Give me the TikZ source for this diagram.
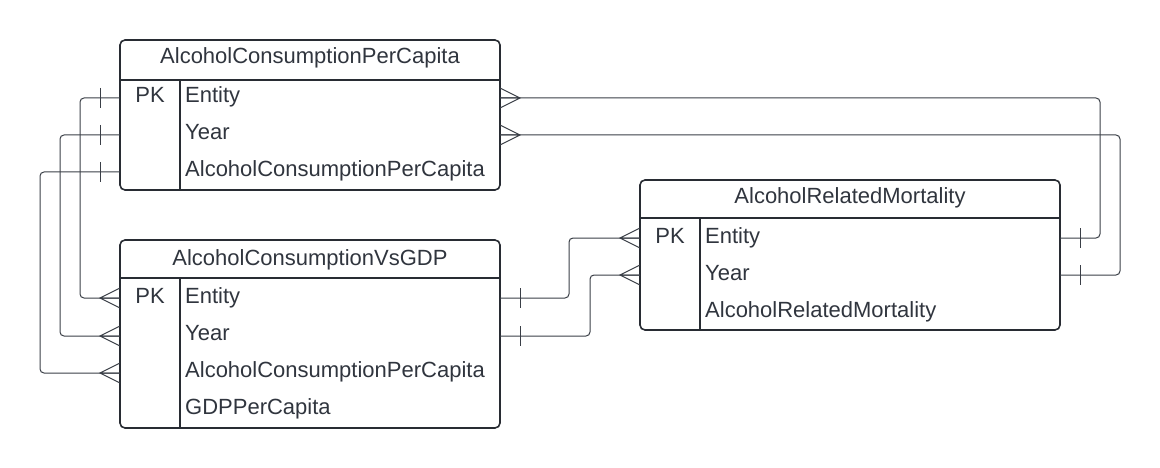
\documentclass[tikz,border=0pt]{standalone}
\usepackage{fontspec}
\setmainfont{Liberation Sans}
\usetikzlibrary{positioning}

\definecolor{edgegray}{HTML}{282C33}
\definecolor{linkgray}{HTML}{3A3F47}
\definecolor{txtgray}{HTML}{30353E}

\tikzset{
  tablebox/.style={draw=edgegray, line width=1.6pt, rounded corners=5pt},
  tablesep/.style={draw=edgegray, line width=1.6pt},
  titletext/.style={anchor=base, inner sep=0pt, text=txtgray, font=\fontsize{22}{26}\selectfont},
  fieldtext/.style={anchor=base west, inner sep=0pt, text=txtgray, font=\fontsize{22}{26}\selectfont},
  keytext/.style={anchor=base, inner sep=0pt, text=txtgray, font=\fontsize{22}{26}\selectfont},
  link/.style={draw=linkgray, line width=1pt, rounded corners=4pt},
  crowmany/.pic={\draw[link, sharp corners] (0,-10) -- (-20,0) -- (0,10) (0,0) -- (-20,0);},
  crowone/.pic={\draw[link, sharp corners] (-20,-10) -- (-20,10);},
}

\begin{document}
\begin{tikzpicture}[x=1pt,y=-1pt]
\useasboundingbox (0,0) rectangle (1160,468);

% AlcoholConsumptionPerCapita
\draw[tablebox] (120,40) rectangle (500,190);
\draw[tablesep] (120,80) -- (500,80) (180,80) -- (180,190);
\node[titletext] (capTitle) at (310,64) {AlcoholConsumptionPerCapita};
\node[keytext] (capPK) at (150,103) {PK};
\node[fieldtext] (capEntity) at (185,103) {Entity};
\node[fieldtext] (capYear) at (185,140) {Year};
\node[fieldtext] (capValue) at (185,177) {AlcoholConsumptionPerCapita};
\coordinate (capEntityL) at (120,98);
\coordinate (capYearL) at (120,135);
\coordinate (capValueL) at (120,172);
\coordinate (capEntityR) at (500,98);
\coordinate (capYearR) at (500,135);

% AlcoholConsumptionVsGDP
\draw[tablebox] (120,240) rectangle (500,428);
\draw[tablesep] (120,278) -- (500,278) (180,278) -- (180,428);
\node[titletext] (gdpTitle) at (310,265) {AlcoholConsumptionVsGDP};
\node[keytext] (gdpPK) at (150,303) {PK};
\node[fieldtext] (gdpEntity) at (185,303) {Entity};
\node[fieldtext] (gdpYear) at (185,340) {Year};
\node[fieldtext] (gdpValue) at (185,377) {AlcoholConsumptionPerCapita};
\node[fieldtext] (gdpGDP) at (185,414) {GDPPerCapita};
\coordinate (gdpEntityL) at (120,298);
\coordinate (gdpYearL) at (120,336);
\coordinate (gdpValueL) at (120,373);
\coordinate (gdpEntityR) at (500,298);
\coordinate (gdpYearR) at (500,336);

% AlcoholRelatedMortality
\draw[tablebox] (640,180) rectangle (1060,330);
\draw[tablesep] (640,218) -- (1060,218) (700,218) -- (700,330);
\node[titletext] (mortTitle) at (850,204) {AlcoholRelatedMortality};
\node[keytext] (mortPK) at (670,243) {PK};
\node[fieldtext] (mortEntity) at (705,243) {Entity};
\node[fieldtext] (mortYear) at (705,280) {Year};
\node[fieldtext] (mortValue) at (705,317) {AlcoholRelatedMortality};
\coordinate (mortEntityL) at (640,238);
\coordinate (mortYearL) at (640,275);
\coordinate (mortEntityR) at (1060,238);
\coordinate (mortYearR) at (1060,275);

% left side links
\draw[link] (capEntityL) -- ++(-40,0) |- (gdpEntityL);
\draw[link] (capYearL) -- ++(-60,0) |- (gdpYearL);
\draw[link] (capValueL) -- ++(-80,0) |- (gdpValueL);
\pic at (capEntityL) {crowone};
\pic at (capYearL) {crowone};
\pic at (capValueL) {crowone};
\pic at (gdpEntityL) {crowmany};
\pic at (gdpYearL) {crowmany};
\pic at (gdpValueL) {crowmany};

% right side links
\draw[link] (capEntityR) -- ++(600,0) |- (mortEntityR);
\draw[link] (capYearR) -- ++(620,0) |- (mortYearR);
\pic[xscale=-1] at (capEntityR) {crowmany};
\pic[xscale=-1] at (capYearR) {crowmany};
\pic[xscale=-1] at (mortEntityR) {crowone};
\pic[xscale=-1] at (mortYearR) {crowone};

% middle links
\draw[link] (gdpEntityR) -- ++(69,0) |- (mortEntityL);
\draw[link] (gdpYearR) -- ++(90,0) |- (mortYearL);
\pic[xscale=-1] at (gdpEntityR) {crowone};
\pic[xscale=-1] at (gdpYearR) {crowone};
\pic at (mortEntityL) {crowmany};
\pic at (mortYearL) {crowmany};
\end{tikzpicture}
\end{document}
